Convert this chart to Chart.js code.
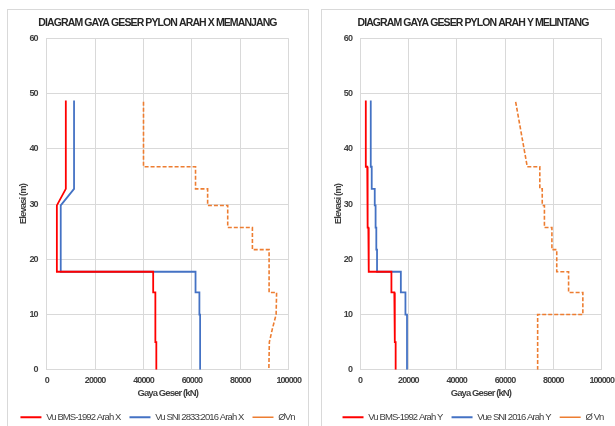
<!DOCTYPE html>
<html><head><meta charset="utf-8">
<script src="https://cdn.jsdelivr.net/npm/chart.js@4/dist/chart.umd.min.js"></script>
<style>
html,body{margin:0;padding:0;background:#fff;overflow:hidden;width:615px;height:426px;position:relative;}
.box{position:absolute;border:1px solid #d9d9d9;box-sizing:border-box;}
.wrap{position:absolute;}
</style></head>
<body>
<div class="box" style="left:7px;top:9px;width:302px;height:440px"></div>
<div class="box" style="left:321px;top:9px;width:304px;height:440px"></div>
<div class="wrap" style="left:8px;top:10px;width:299px;height:422px"><canvas id="c1"></canvas></div>
<div class="wrap" style="left:322px;top:10px;width:302px;height:422px"><canvas id="c2"></canvas></div>
<script>
// ---- data (left chart: arah X memanjang) ----
const titleX = 'DIAGRAM GAYA GESER PYLON ARAH X MEMANJANG';
const titleY = 'DIAGRAM GAYA GESER PYLON ARAH Y MELINTANG';
const xTickLabels = ['0','20000','40000','60000','80000','100000'];
const yTickLabels = ['0','10','20','30','40','50','60'];

const elevBmsX = [48.75, 32.75, 29.75, 17.75, 17.75, 14, 14, 5, 5, 0];
const vuBmsX   = [7900, 7900, 4200, 4200, 44000, 44000, 44900, 44900, 45300, 45300];
const elevSniX = [48.75, 32.75, 29.75, 17.75, 17.75, 14, 14, 10, 10, 0];
const vuSniX   = [11300, 11300, 5800, 5800, 61500, 61500, 63100, 63100, 63400, 63400];
const elevVnX  = [48.5, 36.75, 36.75, 32.75, 32.75, 29.75, 29.75, 25.75, 25.75, 21.75, 21.75, 14, 14, 10, 7.5, 5, 0];
const vnX      = [40000, 40000, 61500, 61500, 66500, 66500, 74800, 74800, 85000, 85000, 91900, 91900, 95000, 94800, 93300, 92000, 91800];

// ---- data (right chart: arah Y melintang) ----
const elevBmsY = [48.75, 36.75, 36.75, 32.75, 32.75, 29.75, 29.75, 25.75, 25.75, 21.75, 21.75, 17.75, 17.75, 14, 14, 5, 5, 0];
const vuBmsY   = [2400, 2400, 3000, 3000, 3100, 3100, 3300, 3300, 3450, 3450, 3700, 3700, 13000, 13000, 14200, 14400, 14750, 14750];
const elevSniY = [48.75, 36.75, 36.75, 32.75, 32.75, 29.75, 29.75, 25.75, 25.75, 21.75, 21.75, 17.75, 17.75, 14, 14, 10, 10, 0];
const vuSniY   = [4450, 4450, 4850, 4850, 6100, 6100, 6450, 6450, 6750, 6750, 7050, 7050, 16900, 16900, 18800, 18800, 19450, 19450];
const elevVnY  = [48.5, 36.75, 36.75, 32.75, 32.75, 29.75, 29.75, 25.75, 25.75, 21.75, 21.75, 17.75, 17.75, 14, 14, 10, 10, 0];
const vnY      = [64400, 69200, 74400, 74400, 75400, 75400, 76300, 76300, 79400, 79400, 81400, 81400, 86300, 86300, 92200, 92200, 73500, 73500];

const namesX = ['Vu BMS-1992 Arah X', 'Vu SNI 2833:2016 Arah X', '\u00D8Vn'];
const namesY = ['Vu BMS-1992 Arah Y', 'Vue SNI 2016 Arah Y', '\u00D8 Vn'];

const pts = (xs, ys) => xs.map((v, i) => ({x: v, y: ys[i]}));
const FONT = "'Liberation Sans', Arial, sans-serif";
const GRID = '#d9d9d9';
const TXT = '#404040';

// condensed look of the original text: tighten letter spacing on the canvas context
const tightText = {
  id: 'tightText',
  beforeLayout(chart) { chart.ctx.letterSpacing = '-0.9px'; },
  beforeDraw(chart) { chart.ctx.letterSpacing = '-0.9px'; }
};

function ds(label, data, color, dash) {
  return {label, data, borderColor: color, backgroundColor: color, borderWidth: dash ? 1.6 : 1.8,
    borderDash: dash || [], showLine: true, pointRadius: 0, pointHoverRadius: 0, tension: 0, fill: false};
}

function makeChart(id, title, datasets, yAxisWidth, rightPad, yTickPad, yTitlePad) {
  return new Chart(document.getElementById(id), {
    type: 'scatter',
    data: {datasets},
    plugins: [tightText],
    options: {
      responsive: true, maintainAspectRatio: false, animation: false,
      layout: {padding: 0},
      plugins: {
        tooltip: {enabled: false},
        title: {display: true, text: title, color: '#262626',
          font: {family: FONT, size: 10.5, weight: 'bold'}, padding: {top: 6.5, bottom: 9.2}},
        legend: {position: 'bottom', labels: {usePointStyle: true, pointStyle: 'line', pointStyleWidth: 21,
          color: TXT, padding: 9, font: {family: FONT, size: 9.5}}}
      },
      scales: {
        x: {type: 'linear', min: 0, max: 100000,
          afterBuildTicks: s => { s.ticks = xTickLabels.map(t => ({value: Number(t)})); },
          ticks: {callback: (v) => xTickLabels.find(t => Number(t) === v) ?? '', color: TXT, padding: 5,
            font: {family: FONT, size: 9, weight: 'bold'}, maxRotation: 0},
          grid: {color: GRID, drawTicks: false, lineWidth: 1},
          border: {color: GRID},
          title: {display: true, text: 'Gaya Geser (kN)', color: TXT, font: {family: FONT, size: 9.5, weight: 'bold'}, padding: {top: 2, bottom: 4}},
          afterFit: s => { s.height = 33.7; }
        },
        y: {type: 'linear', min: 0, max: 60,
          afterBuildTicks: s => { s.ticks = yTickLabels.map(t => ({value: Number(t)})); },
          ticks: {callback: (v) => yTickLabels.find(t => Number(t) === v) ?? '', color: TXT, padding: yTickPad,
            font: {family: FONT, size: 9, weight: 'bold'}},
          grid: {color: GRID, drawTicks: false, lineWidth: 1},
          border: {color: GRID},
          title: {display: true, text: 'Elevasi (m)', color: TXT, font: {family: FONT, size: 9.5, weight: 'bold'}, padding: {top: yTitlePad, bottom: 0}},
          afterFit: s => { s.width = yAxisWidth; }
        },
        // invisible spacer on the right so the legend can use the full width
        yPad: {type: 'linear', position: 'right', min: 0, max: 60, display: true,
          ticks: {display: false}, grid: {display: false, drawTicks: false}, border: {display: false},
          afterFit: s => { s.width = rightPad; }
        }
      }
    }
  });
}

makeChart('c1', titleX, [
  ds(namesX[0], pts(vuBmsX, elevBmsX), '#ff0000'),
  ds(namesX[1], pts(vuSniX, elevSniX), '#4472c4'),
  ds(namesX[2], pts(vnX, elevVnX), '#ed7d31', [4, 2])
], 38.7, 18.3, 9, 10);

makeChart('c2', titleY, [
  ds(namesY[0], pts(vuBmsY, elevBmsY), '#ff0000'),
  ds(namesY[1], pts(vuSniY, elevSniY), '#4472c4'),
  ds(namesY[2], pts(vnY, elevVnY), '#ed7d31', [4, 2])
], 38, 22.3, 8, 11);
</script>
</body></html>
